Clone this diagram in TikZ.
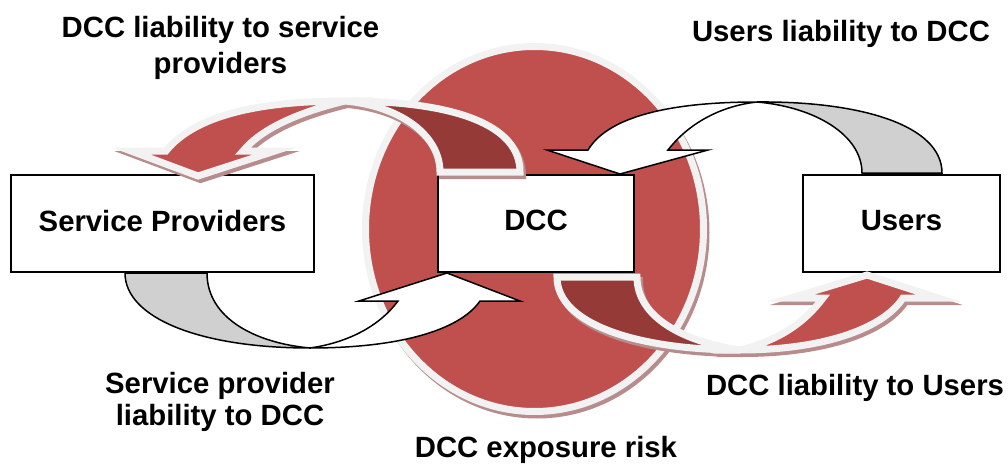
\documentclass[tikz,border=0pt]{standalone}
\usepackage{fontspec}
\setmainfont{Liberation Sans}
\usepackage{tikz}
\usetikzlibrary{calc}

\definecolor{riskred}{RGB}{192,80,77}
\definecolor{riskdark}{RGB}{150,58,56}
\definecolor{rimgrey}{RGB}{242,242,242}
\definecolor{backgrey}{RGB}{208,208,208}
\definecolor{shadowred}{RGB}{184,140,140}

\newcommand{\lblfont}{\fontsize{14.65}{18}\selectfont\bfseries}

\newcommand{\dccProvBack}{(440,172) -- (520,172) .. controls (520,125) and (455,101) .. (345,101) .. controls (400,106) and (440,135) .. (440,172) -- cycle}
\newcommand{\dccProvFront}{(345,101) .. controls (260,101) and (195,115) .. (166,151) -- (131,151) -- (198,176) -- (275,151) -- (243,151) .. controls (262,128) and (300,112) .. (345,101) -- cycle}
\newcommand{\usersDccBack}{(862,173) -- (942,173) .. controls (942,125) and (860,101) .. (757,102) .. controls (815,107) and (862,135) .. (862,173) -- cycle}
\newcommand{\usersDccFront}{(757,102) .. controls (660,102) and (606,120) .. (588,150) -- (547,150) -- (620,174) -- (708,150) -- (668,150) .. controls (688,124) and (720,106) .. (757,102) -- cycle}
\newcommand{\provDccBack}{(125,273) -- (207,273) .. controls (207,318) and (255,343) .. (310,348) .. controls (200,348) and (125,318) .. (125,273) -- cycle}
\newcommand{\provDccFront}{(310,348) .. controls (400,348) and (460,330) .. (480,301) -- (520,301) -- (447,273) -- (359,301) -- (398,301) .. controls (378,328) and (345,343) .. (310,348) -- cycle}
\newcommand{\dccUsersBack}{(557,277) -- (637,277) .. controls (637,318) and (685,342) .. (740,350) .. controls (640,350) and (557,325) .. (557,277) -- cycle}
\newcommand{\dccUsersFront}{(740,350) .. controls (820,350) and (882,330) .. (903,298) -- (938,298) -- (867,275) -- (791,298) -- (823,298) .. controls (805,322) and (780,340) .. (740,350) -- cycle}

\begin{document}
\begin{tikzpicture}[x=0.5pt, y=-0.5pt, line join=miter]
    \tikzset{BoxStyle/.style = {draw, line width=0.65pt, fill=white, minimum height=48.5pt, inner sep=0, text depth=3pt, font=\lblfont}}
    \tikzset{LabelStyle/.style = {font=\lblfont, inner sep=0, align=center}}
    \tikzset{RimStyle/.style = {draw=rimgrey, line width=3.5pt}}
    \tikzset{ShadowStyle/.style = {draw=shadowred, fill=shadowred, line width=3.5pt, shift={(2.5,3.5)}}}
    \tikzset{OutlineStyle/.style = {draw=black, line width=0.75pt}}

    \useasboundingbox (0,0) rectangle (1008,466);

    \path[ShadowStyle] (534.5,229) ellipse [x radius=84.5pt, y radius=91.25pt];
    \path[RimStyle, fill=riskred] (534.5,229) ellipse [x radius=84.5pt, y radius=91.25pt];

    \node[BoxStyle, minimum width=151.5pt] at (162.5,223.5) (provider) {Service Providers};
    \node[BoxStyle, minimum width=98pt] at (536,223.5) (dcc) {DCC};
    \node[BoxStyle, minimum width=98.5pt] at (901.5,223.5) (users) {Users};

    \path[ShadowStyle] \dccProvBack;
    \path[ShadowStyle] \dccProvFront;
    \path[RimStyle, fill=riskdark] \dccProvBack;
    \path[RimStyle, fill=riskred] \dccProvFront;

    \path[OutlineStyle, fill=backgrey] \usersDccBack;
    \path[OutlineStyle, fill=white] \usersDccFront;

    \path[OutlineStyle, fill=backgrey] \provDccBack;
    \path[OutlineStyle, fill=white] \provDccFront;

    \path[ShadowStyle] \dccUsersBack;
    \path[ShadowStyle] \dccUsersFront;
    \path[RimStyle, fill=riskdark] \dccUsersBack;
    \path[RimStyle, fill=riskred] \dccUsersFront;

    \node[LabelStyle, anchor=north] at (220.5,15.6) (dccprov) {DCC liability to service\\providers};
    \node[LabelStyle, anchor=base] at (841,41) (usersdcc) {Users liability to DCC};
    \node[LabelStyle, anchor=north, font=\fontsize{14.65}{16}\selectfont\bfseries] at (220,371.6) (provdcc) {Service provider\\liability to DCC};
    \node[LabelStyle, anchor=base] at (855,395) (dccusers) {DCC liability to Users};
    \node[LabelStyle, anchor=base] at (546,457) (risk) {DCC exposure risk};
\end{tikzpicture}
\end{document}
